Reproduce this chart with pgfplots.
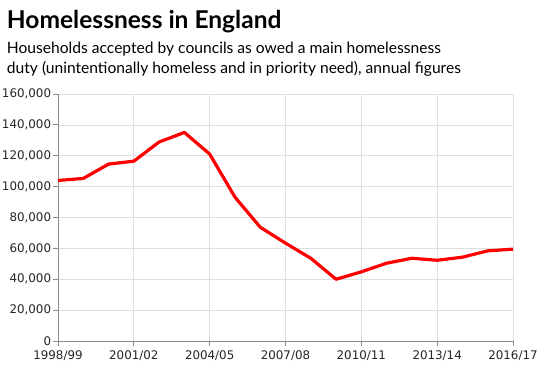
\documentclass[border=0pt]{standalone}
\usepackage{pgfplots}
\pgfplotsset{compat=1.18}
\usepackage{fontspec}
\setmainfont{Lato}
\newfontfamily\tickfont{DejaVu Sans}
\begin{document}
\begin{tikzpicture}
\path (-43.5pt,-26.25pt) rectangle (363.75pt,255.75pt);
\begin{axis}[
  at={(0,0)}, anchor=south west,
  scale only axis, width=341.25pt, height=185.25pt,
  xmin=0, xmax=18, ymin=0, ymax=160000,
  xtick={0,3,6,9,12,15,18},
  xticklabels={1998/99,2001/02,2004/05,2007/08,2010/11,2013/14,2016/17},
  ytick={0,20000,40000,60000,80000,100000,120000,140000,160000},
  yticklabels={0,{20,000},{40,000},{60,000},{80,000},{100,000},{120,000},{140,000},{160,000}},
  scaled y ticks=false,
  tick label style={font=\tickfont\fontsize{8.9pt}{10pt}\selectfont, text=black!85},
  grid=major, major grid style={gray!25, line width=0.5pt},
  axis lines*=left,
  axis line style={gray!90, line width=0.6pt},
  tick style={gray!90, line width=0.6pt},
  tick align=outside, major tick length=4pt,
  xticklabel style={yshift=0pt},
  yticklabel style={inner sep=0pt, xshift=-1pt},
  clip=false,
]
\addplot[red, line width=2.4pt, line join=round] coordinates {
(0,104000) (1,105300) (2,114600) (3,116500) (4,128900) (5,135100) (6,121100)
(7,93200) (8,73700) (9,63400) (10,53600) (11,40000) (12,44800) (13,50400)
(14,53600) (15,52300) (16,54300) (17,58400) (18,59500)};
\end{axis}
\node[anchor=base west, inner sep=0pt, font=\fontsize{18.4pt}{22pt}\selectfont\bfseries] at (-38.5pt,234.75pt) {Homelessness in England};
\node[anchor=base west, inner sep=0pt, font=\fontsize{11.7pt}{14pt}\selectfont] at (-38.5pt,216pt) {Households accepted by councils as owed a main homelessness};
\node[anchor=base west, inner sep=0pt, font=\fontsize{11.7pt}{14pt}\selectfont] at (-38.5pt,201pt) {duty (unintentionally homeless and in priority need), annual figures};
\end{tikzpicture}
\end{document}
